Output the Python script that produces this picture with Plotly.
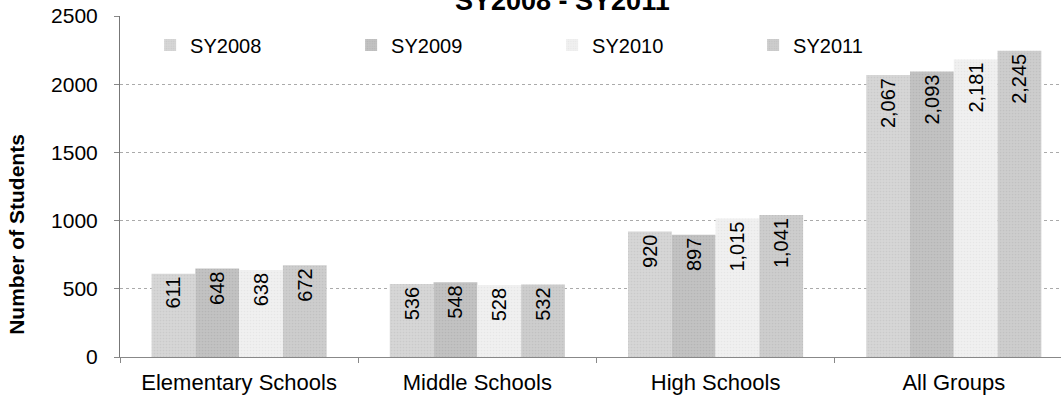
import plotly.graph_objects as go

categories = ["Elementary Schools", "Middle Schools", "High Schools", "All Groups"]
series_names = ["SY2008", "SY2009", "SY2010", "SY2011"]
sy2008 = [611, 536, 920, 2067]
sy2009 = [648, 548, 897, 2093]
sy2010 = [638, 528, 1015, 2181]
sy2011 = [672, 532, 1041, 2245]
y_ticks = [0, 500, 1000, 1500, 2000, 2500]
title_text = "SY2008 - SY2011"
y_title = "Number of Students"

colors = ["#d6d6d6", "#c2c2c2", "#f0f0f0", "#cdcdcd"]
dots = ["#bdbdbd", "#a8a8a8", "#dcdcdc", "#b5b5b5"]
font_family = "Liberation Sans, Arial, sans-serif"

fig = go.Figure()
for name, vals, col, dc in zip(series_names, [sy2008, sy2009, sy2010, sy2011], colors, dots):
    fig.add_trace(go.Bar(
        name=name, x=categories, y=vals,
        marker=dict(color=col, line=dict(width=0),
                    pattern=dict(shape=".", size=3, solidity=0.25, fgcolor=dc, bgcolor=col)),
        texttemplate="%{y:,}", textposition="inside", insidetextanchor="end",
        textangle=-90, textfont=dict(size=20, color="#000", family=font_family),
        constraintext="none",
    ))

fig.update_layout(
    width=1061, height=402,
    margin=dict(l=120, r=0, t=16, b=45),
    paper_bgcolor="white", plot_bgcolor="white",
    barmode="group", bargap=0.265, bargroupgap=0,
    font=dict(family=font_family, size=20, color="#000"),
    legend=dict(orientation="h", x=0.032, xanchor="left", y=0.915, yanchor="middle",
                entrywidth=156, font=dict(size=20), bgcolor="rgba(0,0,0,0)"),
    showlegend=True,
    uniformtext=dict(minsize=20, mode="show"),
)
fig.update_xaxes(
    range=[-0.5, 3.45], showline=True, linecolor="#888", linewidth=1,
    ticks="outside", tickson="boundaries", ticklen=5, tickcolor="#888",
    tickfont=dict(size=22), ticklabelstandoff=6, showgrid=False,
)
fig.update_yaxes(
    range=[0, 2500], tickvals=y_ticks, showline=True, linecolor="#777", linewidth=1,
    ticks="outside", ticklen=5, tickcolor="#888", tickfont=dict(size=21),
    ticklabelstandoff=12,
    showgrid=True, gridcolor="#aaa", griddash="dot", gridwidth=1, zeroline=False,
)
fig.add_annotation(
    text=title_text, xref="paper", yref="paper", x=0.47, y=0.994,
    xanchor="center", yanchor="bottom", showarrow=False,
    font=dict(size=27, weight="bold", family=font_family),
)
fig.add_annotation(
    text=y_title, xref="paper", yref="paper", x=-0.1095, y=0.361,
    xanchor="center", yanchor="middle", showarrow=False, textangle=-90,
    font=dict(size=21, weight="bold", family=font_family),
)
fig.write_html("out.html")
